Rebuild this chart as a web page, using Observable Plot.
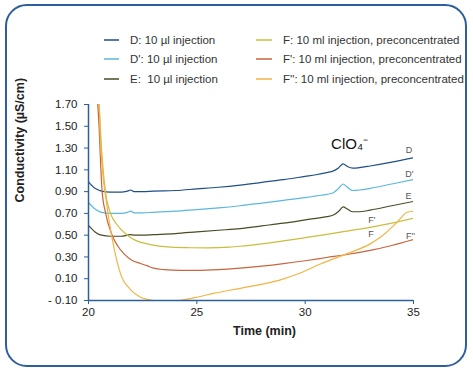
<!DOCTYPE html>
<html>
<head>
<meta charset="utf-8">
<script src="https://cdn.jsdelivr.net/npm/d3@7"></script>
<script src="https://cdn.jsdelivr.net/npm/@observablehq/plot@0.6"></script>
<style>
  html, body { margin: 0; padding: 0; background: #fff; }
  body { width: 473px; height: 372px; position: relative; overflow: hidden;
         font-family: "Liberation Sans", Arial, sans-serif; }
  #frame { position: absolute; left: 5px; top: 4px; width: 462px; height: 363px;
           box-sizing: border-box; border: 2px solid #2d5f9c; border-radius: 22px; pointer-events: none; }
  #legend { position: relative; height: 90px; }
  .lg-row { position: absolute; height: 19.5px; display: flex; align-items: center;
            font-size: 11.5px; color: #333; white-space: pre; }
  .lg-row svg { display: block; flex: none; }
  #chart { position: relative; }
</style>
</head>
<body>
<div id="frame"></div>
<div id="legend"></div>
<div id="chart"></div>
<script>
// ---- data ----
const seriesNames = ["D", "D'", "E", "F", "F'", "F''"];
const legendLabels = [
  "D: 10 µl injection", "D': 10 µl injection", "E:  10 µl injection",
  "F: 10 ml injection, preconcentrated", "F': 10 ml injection, preconcentrated",
  "F'': 10 ml injection, preconcentrated"
];
const seriesColors = ["#1f4f86", "#5bb8de", "#4b4a26", "#cbbd3e", "#c9643c", "#f2b443"];

const tDE   = [20, 20.3, 20.6, 21.0, 21.5, 21.8, 21.95, 22.1, 22.5, 23, 24, 25, 26, 27, 28, 29, 30, 30.5, 31, 31.3, 31.55, 31.75, 31.95, 32.2, 32.5, 33, 34, 35];
const vD    = [0.99, 0.93, 0.905, 0.895, 0.895, 0.905, 0.915, 0.90, 0.90, 0.905, 0.91, 0.925, 0.94, 0.96, 0.985, 1.01, 1.04, 1.055, 1.075, 1.09, 1.12, 1.155, 1.13, 1.115, 1.12, 1.135, 1.17, 1.21];
const vDp   = [0.80, 0.74, 0.71, 0.70, 0.70, 0.71, 0.72, 0.705, 0.705, 0.71, 0.72, 0.735, 0.75, 0.77, 0.795, 0.82, 0.845, 0.86, 0.875, 0.89, 0.93, 0.97, 0.94, 0.91, 0.915, 0.93, 0.97, 1.01];
const vE    = [0.59, 0.53, 0.50, 0.49, 0.49, 0.50, 0.505, 0.50, 0.50, 0.505, 0.515, 0.53, 0.545, 0.56, 0.585, 0.61, 0.64, 0.655, 0.67, 0.685, 0.72, 0.76, 0.74, 0.715, 0.715, 0.73, 0.77, 0.81];

const tF    = [20.48, 20.6, 20.78, 21.0, 21.3, 21.79, 22.2, 22.7, 23.5, 24.5, 25.5, 26.5, 27, 28, 29, 30, 31, 32, 33, 34, 35];
const vF    = [1.72, 1.30, 0.90, 0.71, 0.60, 0.50, 0.45, 0.42, 0.395, 0.385, 0.384, 0.39, 0.398, 0.42, 0.447, 0.477, 0.508, 0.54, 0.572, 0.61, 0.655];

const tFp   = [20.42, 20.5, 20.55, 20.63, 20.78, 21.09, 21.35, 21.63, 22.0, 22.4, 22.7, 23.0, 23.5, 24.25, 25, 26, 27, 28, 29, 30, 31, 32, 33, 34, 35];
const vFp   = [1.72, 1.45, 1.20, 0.90, 0.71, 0.50, 0.40, 0.33, 0.27, 0.24, 0.22, 0.197, 0.183, 0.176, 0.176, 0.183, 0.197, 0.215, 0.238, 0.265, 0.295, 0.325, 0.36, 0.405, 0.46];

const tFpp  = [20.5, 20.55, 20.86, 21.17, 21.48, 21.94, 22.4, 22.7, 23.0, 23.5, 24.0, 24.5, 25, 25.77, 27, 28.25, 28.86, 29.8, 30.7, 31.94, 33.0, 33.47, 34.25, 34.7, 35];
const vFpp  = [1.72, 1.37, 0.76, 0.39, 0.145, 0.0, -0.07, -0.09, -0.10, -0.11, -0.105, -0.09, -0.07, -0.035, 0.012, 0.06, 0.09, 0.155, 0.235, 0.33, 0.42, 0.48, 0.62, 0.71, 0.72];

const xTicks = [20, 25, 30, 35];
const yTicks = [-0.10, 0.10, 0.30, 0.50, 0.70, 0.90, 1.10, 1.30, 1.50, 1.70];

const endLabels  = ["D", "D'", "E", "F'", "F", "F''"];
const endLabelT  = [34.79, 34.81, 34.77, 33.08, 33.04, 34.86];
const endLabelV  = [1.277, 1.06, 0.855, 0.635, 0.51, 0.49];

const ionLabel = ["ClO₄⁻"];
const ionT = [32.05];
const ionV = [1.34];

// ---- build rows ----
const seriesT = [tDE, tDE, tDE, tF, tFp, tFpp];
const seriesV = [vD, vDp, vE, vF, vFp, vFpp];
const rows = seriesNames.flatMap((s, i) => seriesT[i].map((t, j) => ({series: s, t, v: seriesV[i][j]})));

// ---- legend ----
const legend = document.getElementById("legend");
const colLeft = [104, 256], textLeft = [130, 283], swW = [15, 16];
const NS = "http://www.w3.org/2000/svg";
legendLabels.forEach((lab, i) => {
  const col = i < 3 ? 0 : 1, row = i % 3;
  const div = document.createElement("div");
  div.className = "lg-row";
  div.style.left = colLeft[col] + "px";
  div.style.top = (30 + row * 19.5) + "px";
  const w = textLeft[col] - colLeft[col];
  const sw = document.createElementNS(NS, "svg");
  sw.setAttribute("width", w);
  sw.setAttribute("height", 4);
  const ln = document.createElementNS(NS, "line");
  ln.setAttribute("x1", 0); ln.setAttribute("x2", swW[col]);
  ln.setAttribute("y1", 2); ln.setAttribute("y2", 2);
  ln.setAttribute("stroke", seriesColors[i]);
  ln.setAttribute("stroke-width", 1.5);
  sw.appendChild(ln);
  div.appendChild(sw);
  const sp = document.createElement("span");
  sp.textContent = lab;
  div.appendChild(sp);
  legend.appendChild(div);
});

// ---- chart ----
const blue = "#2d5f9c";
const fmt = d => d < 0 ? "- " + Math.abs(d).toFixed(2) : d.toFixed(2);
const chart = Plot.plot({
  width: 473, height: 282,
  marginLeft: 88, marginRight: 60, marginTop: 14, marginBottom: 72,
  style: {fontFamily: "'Liberation Sans', Arial, sans-serif", fontSize: "11.5px", color: "#222", background: "transparent", overflow: "visible"},
  x: {domain: [20, 35]},
  y: {domain: [-0.1, 1.7]},
  color: {domain: seriesNames, range: seriesColors},
  marks: [
    Plot.axisX({ticks: xTicks, tickSize: 4, tickPadding: 3, stroke: blue, fill: "#222", label: null}),
    Plot.axisY({ticks: yTicks, tickFormat: fmt, tickSize: 4, tickPadding: 7, stroke: blue, fill: "#222", label: null}),
    Plot.line(rows, {x: "t", y: "v", z: "series", stroke: "series", strokeWidth: 1.2, curve: "monotone-x", clip: true}),
    Plot.ruleX([20], {stroke: blue, strokeWidth: 1.5}),
    Plot.ruleY([-0.1], {stroke: blue, strokeWidth: 1.5}),
    Plot.text(endLabels, {x: (d, i) => endLabelT[i], y: (d, i) => endLabelV[i], text: d => d, fontSize: 9, fill: "#555"}),
    Plot.text(ionLabel, {x: (d, i) => ionT[i], y: (d, i) => ionV[i], text: d => d, fontSize: 15, fill: "#111"}),
    Plot.text(["Conductivity (µS/cm)"], {frameAnchor: "left", rotate: -90, dx: -69, fontSize: 12.5, fontWeight: "bold", fill: "#222"}),
    Plot.text(["Time (min)"], {frameAnchor: "bottom", dx: 13.5, dy: 34, fontSize: 12.5, fontWeight: "bold", fill: "#222"})
  ]
});
document.getElementById("chart").appendChild(chart);
</script>
</body>
</html>
